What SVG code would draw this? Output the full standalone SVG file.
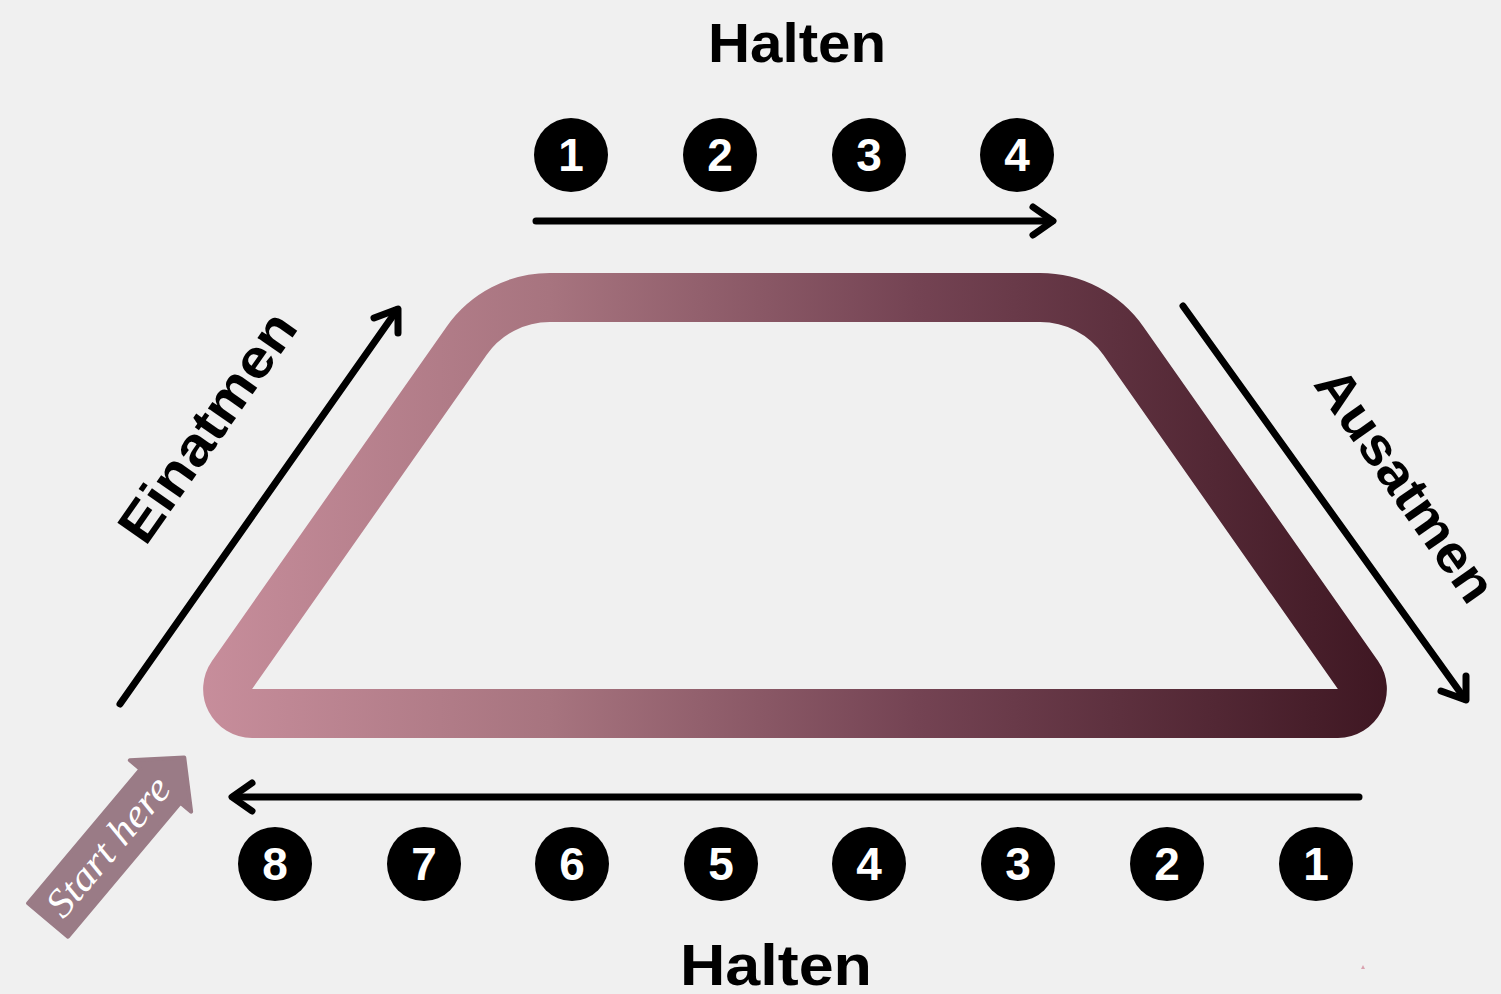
<svg xmlns="http://www.w3.org/2000/svg" width="1501" height="994" viewBox="0 0 1501 994">
  <defs>
    <linearGradient id="trapGrad" gradientUnits="userSpaceOnUse" x1="180" y1="0" x2="1410" y2="0">
      <stop offset="0" stop-color="#c98f9d"/>
      <stop offset="0.3" stop-color="#a7747f"/>
      <stop offset="0.6" stop-color="#744353"/>
      <stop offset="1" stop-color="#3c1520"/>
    </linearGradient>
    <style>
      .bg { fill: #f0f0f0; }
      .trap { fill: none; stroke: url(#trapGrad); stroke-width: 49; }
      .line { fill: none; stroke: #000; stroke-width: 7; stroke-linecap: round; stroke-linejoin: round; }
      .circ { fill: #000; }
      .num { font-family: "Liberation Sans", Arial, sans-serif; font-weight: 700; font-size: 46px; fill: #fff; text-anchor: middle; }
      .label { font-family: "Liberation Sans", Arial, sans-serif; font-weight: 700; fill: #000; text-anchor: middle; }
      .start { fill: #9a7b86; stroke: #9a7b86; stroke-width: 4; stroke-linejoin: round; }
      .starttxt { font-family: "Liberation Serif", "Times New Roman", serif; font-style: italic; font-size: 40px; fill: #fff; text-anchor: middle; }
    </style>
  </defs>

  <rect class="bg" x="0" y="0" width="1501" height="994"/>

  <g id="trapezoid">
    <path class="trap" d="M252.06,713.5 L1337.94,713.5 A24.5,24.5 0 0 0 1357.96,674.98 L1123.34,340.72 A101.5,101.5 0 0 0 1040.2,297.5 L549.8,297.5 A101.5,101.5 0 0 0 466.66,340.72 L232.04,674.98 A24.5,24.5 0 0 0 252.06,713.5 Z"/>
  </g>

  <g id="connectors">
    <line class="line" x1="536" y1="221" x2="1052" y2="221"/>
    <polyline class="line" points="1033,207 1053,221 1033,235"/>
    <line class="line" x1="1359" y1="797" x2="234" y2="797"/>
    <polyline class="line" points="252,783 232,797 252,811"/>
    <line class="line" x1="120" y1="704" x2="397" y2="310"/>
    <polyline class="line" points="374,318 398,309 398,333"/>
    <line class="line" x1="1183" y1="306" x2="1465" y2="699"/>
    <polyline class="line" points="1441,691 1466,700 1466,676"/>
  </g>

  <g id="label-halten-top">
    <text class="label" x="797" y="62" font-size="56" textLength="178" lengthAdjust="spacingAndGlyphs">Halten</text>
  </g>
  <g id="label-halten-bottom">
    <text class="label" x="776" y="985" font-size="58" textLength="192" lengthAdjust="spacingAndGlyphs">Halten</text>
  </g>
  <g id="label-einatmen">
    <text class="label" font-size="54" transform="translate(206,426) rotate(-55)" x="0" y="20" textLength="268" lengthAdjust="spacingAndGlyphs">Einatmen</text>
  </g>
  <g id="label-ausatmen">
    <text class="label" font-size="53" transform="translate(1407,484) rotate(55)" x="0" y="20" textLength="272" lengthAdjust="spacingAndGlyphs">Ausatmen</text>
  </g>

  <g id="top-counts">
    <g id="top-1"><circle class="circ" cx="571" cy="155" r="37"/><text class="num" x="571" y="171">1</text></g>
    <g id="top-2"><circle class="circ" cx="720" cy="155" r="37"/><text class="num" x="720" y="171">2</text></g>
    <g id="top-3"><circle class="circ" cx="869" cy="155" r="37"/><text class="num" x="869" y="171">3</text></g>
    <g id="top-4"><circle class="circ" cx="1017" cy="155" r="37"/><text class="num" x="1017" y="171">4</text></g>
  </g>

  <g id="bottom-counts">
    <g id="bottom-8"><circle class="circ" cx="275" cy="864" r="37"/><text class="num" x="275" y="880">8</text></g>
    <g id="bottom-7"><circle class="circ" cx="424" cy="864" r="37"/><text class="num" x="424" y="880">7</text></g>
    <g id="bottom-6"><circle class="circ" cx="572" cy="864" r="37"/><text class="num" x="572" y="880">6</text></g>
    <g id="bottom-5"><circle class="circ" cx="721" cy="864" r="37"/><text class="num" x="721" y="880">5</text></g>
    <g id="bottom-4"><circle class="circ" cx="869" cy="864" r="37"/><text class="num" x="869" y="880">4</text></g>
    <g id="bottom-3"><circle class="circ" cx="1018" cy="864" r="37"/><text class="num" x="1018" y="880">3</text></g>
    <g id="bottom-2"><circle class="circ" cx="1167" cy="864" r="37"/><text class="num" x="1167" y="880">2</text></g>
    <g id="bottom-1"><circle class="circ" cx="1316" cy="864" r="37"/><text class="num" x="1316" y="880">1</text></g>
  </g>

  <g id="start-here" transform="translate(48,920) rotate(-50)">
    <polygon class="start" points="0,-26 175,-26 175,-40 212,0 175,40 175,26 0,26"/>
    <text class="starttxt" x="95" y="12" textLength="170" lengthAdjust="spacingAndGlyphs">Start here</text>
  </g>

  <polygon points="1361,969 1363,965 1365,969" fill="#d9a3b0"/>
</svg>
